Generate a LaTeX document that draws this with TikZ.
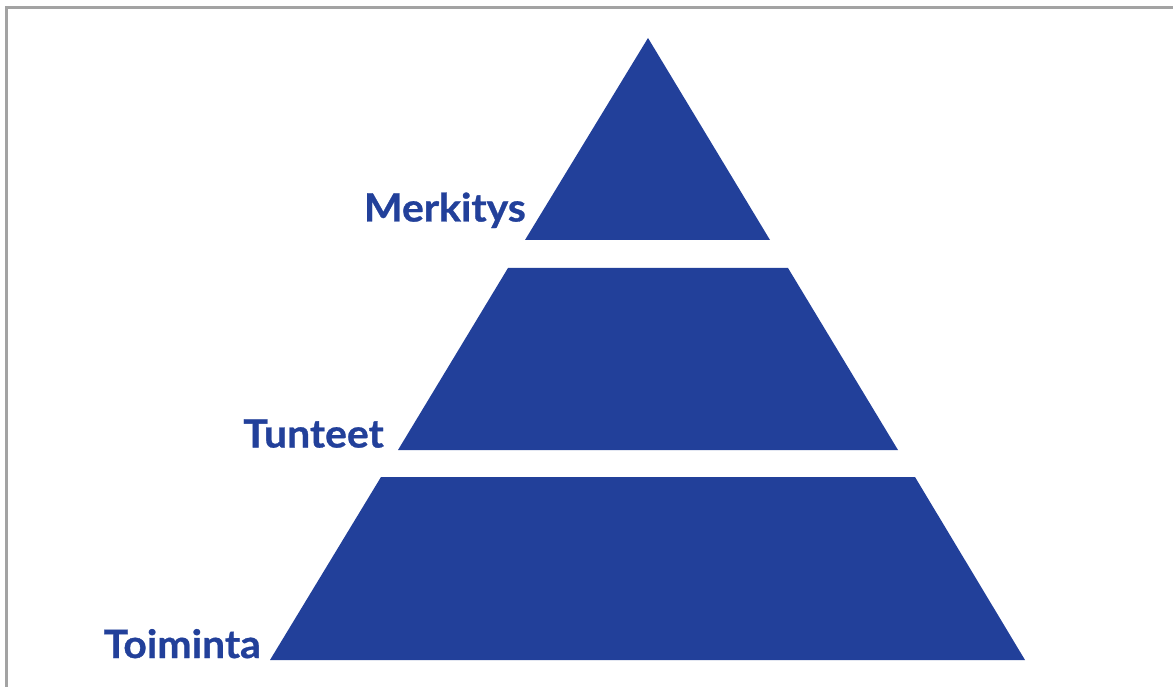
\documentclass[tikz,border=0pt]{standalone}
\usepackage{fontspec}
\setmainfont{Lato}[BoldFeatures={FakeStretch=1.05, FakeBold=0.8}]
\usepackage{tikz}
\definecolor{pyrblue}{HTML}{22409A}
\definecolor{framegray}{HTML}{A3A3A3}

\tikzset{
  level/.style={fill=pyrblue},
  levellabel/.style={anchor=base east, inner sep=0pt, text=pyrblue,
    font=\fontsize{39}{44}\selectfont\bfseries},
}

\begin{document}
\begin{tikzpicture}[x=1pt,y=-1pt]
            \useasboundingbox (0,0) rectangle (1173,687);
            % frame on the left and top only
            \draw[framegray, line width=3pt] (6.5,687) -- (6.5,8) -- (1173,8);
            % apex and the corners of the three levels
            \coordinate (A) at (648,38);
            \coordinate (B1) at (525,240);
            \coordinate (B2) at (770,240);
            \coordinate (C1) at (508,268);
            \coordinate (C2) at (788,268);
            \coordinate (D1) at (398,450);
            \coordinate (D2) at (898,450);
            \coordinate (E1) at (381,477);
            \coordinate (E2) at (915,477);
            \coordinate (F1) at (270,660);
            \coordinate (F2) at (1025,660);
            \fill[level] (A) -- (B2) -- (B1) -- cycle;
            \fill[level] (C1) -- (C2) -- (D2) -- (D1) -- cycle;
            \fill[level] (E1) -- (E2) -- (F2) -- (F1) -- cycle;
            \node (merkitys) at (526,221.5) [levellabel] {Merkitys};
            \node (tunteet) at (384,447.5) [levellabel] {Tunteet};
            \node (toiminta) at (261,658) [levellabel] {Toiminta};
        \end{tikzpicture}
\end{document}
